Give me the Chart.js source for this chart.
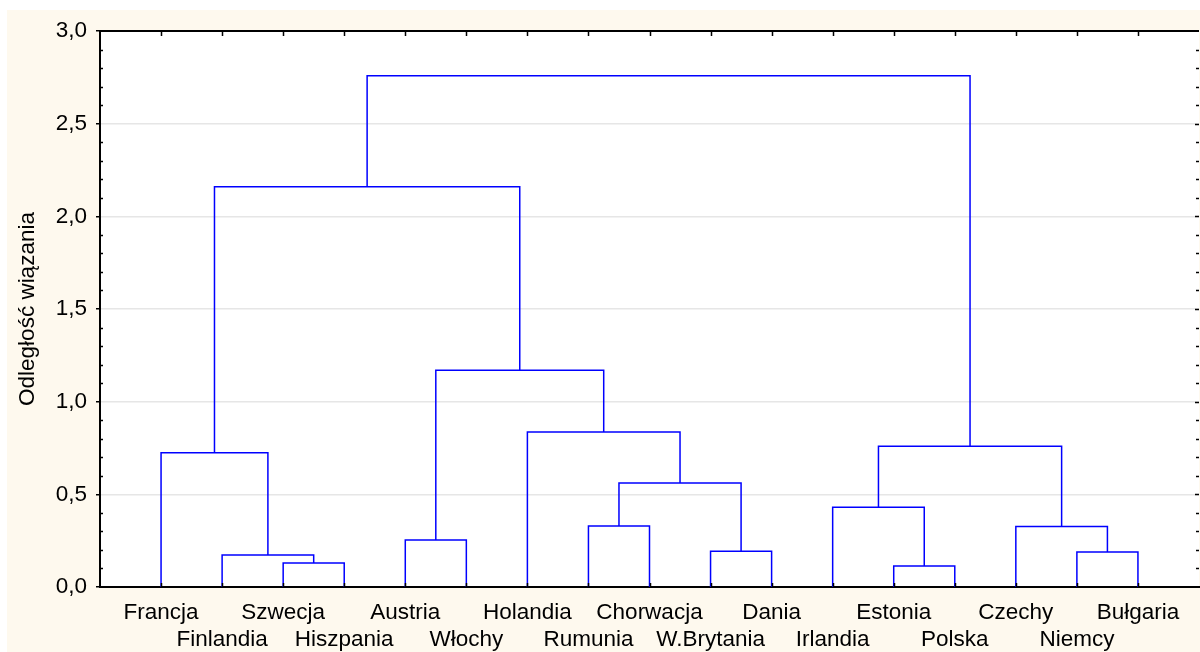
<!DOCTYPE html>
<html lang="pl">
<head>
<meta charset="utf-8">
<title>Dendrogram</title>
<script src="https://cdn.jsdelivr.net/npm/chart.js@4/dist/chart.umd.min.js"></script>
<style>
    body { margin: 0; background: #fff; }
    #kontener { width: 1200px; height: 652px; }
</style>
</head>
<body>
<div id="kontener"><canvas id="graficoDendrograma" width="1200" height="652"></canvas></div>
<script>
// liscie w kolejnosci na osi X
var kraje = ['Francja', 'Finlandia', 'Szwecja', 'Hiszpania', 'Austria', 'Włochy', 'Holandia', 'Rumunia', 'Chorwacja',
    'W.Brytania', 'Dania', 'Irlandia', 'Estonia', 'Polska', 'Czechy', 'Niemcy', 'Bułgaria'];

// kolejne polaczenia: wezly 0..16 to liscie, polaczenie k tworzy wezel 17 + k
var polaczenieLewe = [2, 1, 0, 4, 7, 9, 21, 6, 20, 19, 12, 11, 15, 14, 28, 26];
var polaczeniePrawe = [3, 17, 18, 5, 8, 10, 22, 23, 24, 25, 13, 27, 16, 29, 30, 31];
var odleglosci = [0.130, 0.173, 0.725, 0.254, 0.329, 0.193, 0.561, 0.836, 1.169, 2.160, 0.113, 0.430, 0.189, 0.327, 0.759, 2.759];

var wartosciOsiY = [0, 0.5, 1, 1.5, 2, 2.5, 3];
var etykietyOsiY = ['0,0', '0,5', '1,0', '1,5', '2,0', '2,5', '3,0'];
var tytulOsiY = 'Odległość wiązania';

var Dendrograma = {};

Dendrograma.MontarDatasets = function () {
    var posX = kraje.map(function (k, i) { return i + 1; });
    var posY = kraje.map(function () { return 0; });
    var datasets = [];

    for (var k = 0; k < odleglosci.length; k++) {
        var a = polaczenieLewe[k], b = polaczeniePrawe[k], h = odleglosci[k];
        datasets.push({
            data: [
                { x: posX[a], y: posY[a] },
                { x: posX[a], y: h },
                { x: posX[b], y: h },
                { x: posX[b], y: posY[b] }
            ],
            showLine: true,
            borderColor: '#0000ff',
            borderWidth: 1.5,
            pointRadius: 0,
            tension: 0,
            fill: false
        });
        posX.push((posX[a] + posX[b]) / 2);
        posY.push(h);
    }
    return datasets;
};

// tlo, ramka i drobne znaczniki osi
var molduraPlugin = {
    id: 'moldura',
    beforeDraw: function (chart) {
        var ctx = chart.ctx, a = chart.chartArea;
        ctx.save();
        ctx.fillStyle = '#fef9ee';
        ctx.fillRect(7, 10, chart.width - 7, chart.height - 10);
        ctx.fillStyle = '#ffffff';
        ctx.fillRect(a.left, a.top, a.right - a.left, a.bottom - a.top);
        ctx.restore();
    },
    afterDraw: function (chart) {
        var ctx = chart.ctx, a = chart.chartArea;
        var sx = chart.scales.x, sy = chart.scales.y;
        ctx.save();
        ctx.strokeStyle = '#000';
        ctx.lineWidth = 2;
        ctx.beginPath();
        ctx.moveTo(a.left, a.top);
        ctx.lineTo(a.right, a.top);
        ctx.stroke();

        ctx.lineWidth = 1.5;
        ctx.beginPath();
        kraje.forEach(function (k, i) {
            var px = Math.round(sx.getPixelForValue(i + 1)) + 0.5;
            ctx.moveTo(px, a.top);
            ctx.lineTo(px, a.top + 5);
            ctx.moveTo(px, a.bottom);
            ctx.lineTo(px, a.bottom - 4);
        });
        for (var v = 1; v < 30; v++) {
            var py = Math.round(sy.getPixelForValue(v / 10)) + 0.5;
            var dl = v % 5 === 0 ? 4 : 3;
            if (v % 5 !== 0) {
                ctx.moveTo(a.left, py);
                ctx.lineTo(a.left + 3, py);
            }
            ctx.moveTo(a.right, py);
            ctx.lineTo(a.right - dl, py);
        }
        ctx.stroke();
        ctx.restore();
    }
};

Dendrograma.Desenhar = function () {
    var ctx = document.getElementById('graficoDendrograma').getContext('2d');
    var fonte = { family: "'Liberation Sans', Arial, sans-serif", size: 22.5, lineHeight: '27px' };

    return new Chart(ctx, {
        type: 'scatter',
        data: { datasets: Dendrograma.MontarDatasets() },
        plugins: [molduraPlugin],
        options: {
            responsive: false,
            animation: false,
            layout: { padding: { left: 0, top: 31, right: 1, bottom: 0 } },
            plugins: { legend: { display: false }, tooltip: { enabled: false } },
            scales: {
                x: {
                    type: 'linear',
                    min: 0,
                    max: kraje.length + 1,
                    afterBuildTicks: function (scale) {
                        scale.ticks = kraje.map(function (k, i) { return { value: i + 1 }; });
                    },
                    afterFit: function (scale) { scale.height = 65; },
                    grid: { display: false, drawTicks: false },
                    border: { display: true, color: '#000', width: 2 },
                    ticks: {
                        autoSkip: false,
                        maxRotation: 0,
                        padding: 12,
                        color: '#000',
                        font: fonte,
                        callback: function (value) {
                            var i = value - 1;
                            return i % 2 === 0 ? [kraje[i], ''] : ['', kraje[i]];
                        }
                    }
                },
                y: {
                    min: 0,
                    max: 3,
                    afterBuildTicks: function (scale) {
                        scale.ticks = wartosciOsiY.map(function (v) { return { value: v }; });
                    },
                    afterFit: function (scale) { scale.width = 100; },
                    grid: { color: '#e6e6e6', lineWidth: 1.5, tickColor: '#000', tickLength: 4, tickWidth: 1.5 },
                    border: { display: true, color: '#000', width: 2 },
                    ticks: {
                        padding: 9,
                        color: '#000',
                        font: fonte,
                        callback: function (value) {
                            return etykietyOsiY[wartosciOsiY.indexOf(value)];
                        }
                    },
                    title: {
                        display: true,
                        text: tytulOsiY,
                        color: '#000',
                        font: fonte,
                        padding: { top: 14, bottom: 0 }
                    }
                }
            }
        }
    });
};

Dendrograma.Desenhar();
</script>
</body>
</html>
